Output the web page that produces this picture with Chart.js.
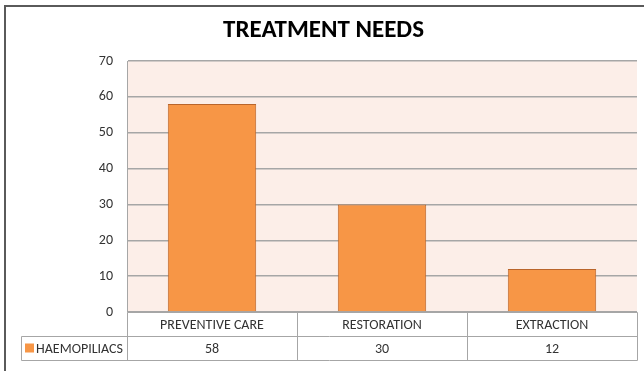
<!DOCTYPE html>
<html>
<head>
<meta charset="utf-8">
<script src="https://cdn.jsdelivr.net/npm/chart.js@4.4.0/dist/chart.umd.min.js"></script>
<style>
  html, body { margin: 0; padding: 0; background: #fff; }
  #wrap { width: 644px; height: 371px; position: relative; }
</style>
</head>
<body>
<div id="wrap"><canvas id="treatmentChart"></canvas></div>
<script>
// datos del grafico
const categories = ['PREVENTIVE CARE', 'RESTORATION', 'EXTRACTION'];
const seriesName = 'HAEMOPILIACS';
const haemophiliacs = [58, 30, 12];
const yMin = 0;
const yMax = 70;
const yStep = 10;

const FONT = 'Carlito, Lato, "Liberation Sans", sans-serif';
const BAR_COLOR = '#F79646';
const BAR_BORDER = '#B9652B';
const LINE_GRAY = '#A6A6A6';

// fondo del area del grafico + marco exterior
const plotBackground = {
    id: 'plotBackground',
    beforeDraw(chart) {
        const ctx = chart.ctx;
        const a = chart.chartArea;
        ctx.save();
        ctx.fillStyle = '#FCEEE8';
        ctx.fillRect(a.left, a.top, a.right - a.left, a.bottom - a.top);
        // marco (solo izquierda y arriba se ven en la imagen)
        ctx.strokeStyle = '#5A5A5A';
        ctx.lineWidth = 2;
        ctx.beginPath();
        ctx.moveTo(5, chart.height);
        ctx.lineTo(5, 6);
        ctx.lineTo(chart.width, 6);
        ctx.stroke();
        ctx.restore();
    }
};

// tabla de datos debajo del eje x
const dataTable = {
    id: 'dataTable',
    afterDraw(chart) {
        const ctx = chart.ctx;
        const x = chart.scales.x;
        const a = chart.chartArea;
        const half = (x.getPixelForValue(1) - x.getPixelForValue(0)) / 2;
        const edges = categories.map((c, i) => Math.round(x.getPixelForValue(i) - half) + 0.5);
        edges.push(Math.round(x.getPixelForValue(categories.length - 1) + half) + 0.5);
        const top = Math.round(a.bottom) + 0.5;
        const mid = top + 24;
        const bot = mid + 24;
        const labelLeft = 21.5;

        ctx.save();
        ctx.strokeStyle = LINE_GRAY;
        ctx.lineWidth = 1;
        ctx.beginPath();
        ctx.moveTo(edges[0], top); ctx.lineTo(edges[edges.length - 1], top);
        ctx.moveTo(labelLeft, mid); ctx.lineTo(edges[edges.length - 1], mid);
        ctx.moveTo(labelLeft, bot); ctx.lineTo(edges[edges.length - 1], bot);
        ctx.moveTo(labelLeft, mid); ctx.lineTo(labelLeft, bot);
        edges.forEach(e => { ctx.moveTo(e, top); ctx.lineTo(e, bot); });
        ctx.stroke();

        ctx.fillStyle = '#333';
        ctx.font = '14px ' + FONT;
        ctx.textAlign = 'center';
        ctx.textBaseline = 'middle';
        categories.forEach((c, i) => {
            const cx = x.getPixelForValue(i);
            ctx.fillText(c, cx, (top + mid) / 2 + 1);
            ctx.fillText(String(haemophiliacs[i]), cx, (mid + bot) / 2 + 1);
        });

        // clave de la leyenda
        ctx.fillStyle = BAR_COLOR;
        ctx.fillRect(25, mid + 7, 9, 9);
        ctx.fillStyle = '#333';
        ctx.textAlign = 'left';
        ctx.fillText(seriesName, 36, (mid + bot) / 2 + 1);
        ctx.restore();
    }
};

const ctx = document.getElementById('treatmentChart').getContext('2d');
new Chart(ctx, {
    type: 'bar',
    data: {
        labels: categories,
        datasets: [{
            label: seriesName,
            data: haemophiliacs,
            backgroundColor: BAR_COLOR,
            borderColor: BAR_BORDER,
            borderWidth: 1,
            categoryPercentage: 1,
            barPercentage: 0.52
        }]
    },
    options: {
        responsive: true,
        maintainAspectRatio: false,
        animation: false,
        layout: { padding: { top: 0, right: 7, bottom: 59, left: 10 } },
        scales: {
            x: { display: false },
            y: {
                min: yMin,
                max: yMax,
                afterFit(scale) { scale.width = 117; },
                ticks: {
                    stepSize: yStep,
                    padding: 14,
                    color: '#333',
                    font: { family: FONT, size: 14 }
                },
                grid: { color: LINE_GRAY, lineWidth: 1.5, drawTicks: false },
                border: { display: true, color: LINE_GRAY, width: 1 }
            }
        },
        plugins: {
            legend: { display: false },
            tooltip: { enabled: false },
            title: {
                display: true,
                text: 'TREATMENT NEEDS',
                color: '#000',
                font: { family: FONT, size: 25, weight: 'bold' },
                padding: { top: 16, bottom: 15 }
            }
        }
    },
    plugins: [plotBackground, dataTable]
});
</script>
</body>
</html>
